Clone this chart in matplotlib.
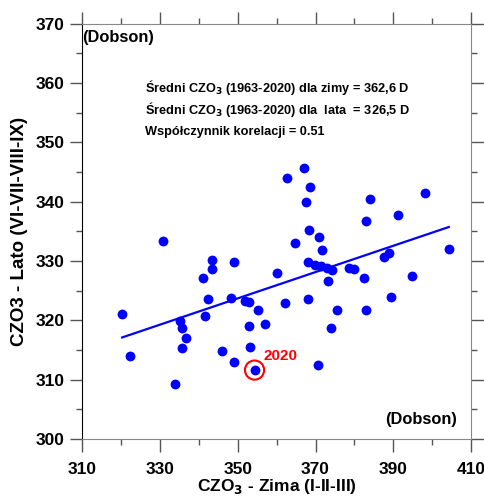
import matplotlib

matplotlib.use("Agg")
import matplotlib.pyplot as plt
import numpy as np
from matplotlib.ticker import FixedLocator, MultipleLocator

plt.rcParams["font.family"] = ["Liberation Sans", "DejaVu Sans"]
plt.rcParams["font.weight"] = "bold"

# winter (x) and summer (y) total ozone, Dobson units
zima = [
    330.7, 343.4, 349.1, 343.4, 341.0, 360.2, 342.2, 348.3, 367.1, 362.7,
    368.6, 367.5, 383.9, 398.3, 391.2, 383.1, 368.3, 370.8, 364.8, 371.7,
    368.1, 369.9, 371.5, 373.0, 374.3, 373.2, 378.7, 380.0, 387.7, 389.0,
    404.3, 382.6, 394.9, 368.0, 389.3, 320.2, 322.3, 333.7, 335.1, 335.7,
    336.7, 335.6, 341.6, 351.8, 353.0, 355.3, 346.0, 349.0, 352.8, 357.1,
    353.1, 354.3, 362.1, 370.6, 374.0, 375.5, 383.1,
]
lato = [
    333.4, 330.1, 329.9, 328.6, 327.2, 327.9, 323.6, 323.7, 345.7, 344.0,
    342.4, 339.9, 340.4, 341.4, 337.8, 336.7, 335.2, 334.1, 333.0, 331.9,
    329.9, 329.4, 329.1, 328.9, 328.4, 326.7, 328.9, 328.7, 330.7, 331.4,
    332.0, 327.1, 327.5, 323.6, 324.0, 321.1, 313.9, 309.2, 319.8, 318.7,
    317.0, 315.4, 320.8, 323.2, 323.0, 321.8, 314.9, 312.9, 319.1, 319.4,
    315.5, 311.6, 322.9, 312.5, 318.7, 321.8, 321.8,
]
point_2020 = (354.3, 311.6)
x_ticks = [310, 330, 350, 370, 390, 410]
y_ticks = [300, 310, 320, 330, 340, 350, 360, 370]

x = np.array(zima)
y = np.array(lato)

fig = plt.figure(figsize=(4.85, 4.97), dpi=100)
ax = fig.add_axes([0.17, 0.117, 0.801, 0.835])

ax.scatter(x, y, s=50, color="#0000ff", zorder=3, linewidths=0)

# linear fit over the data range
a, b = np.polyfit(x, y, 1)
xx = np.array([x.min(), x.max()])
ax.plot(xx, a * xx + b, color="#0000ff", lw=1.6, zorder=2)

# 2020 highlight
ax.scatter([point_2020[0]], [point_2020[1]], s=190, facecolors="none",
           edgecolors="red", linewidths=1.5, zorder=4)
ax.text(point_2020[0] + 2.2, point_2020[1] + 2.3, "2020", color="red",
        fontsize=11, fontweight="bold", ha="left", va="center")

ax.set_xlim(310, 410)
ax.set_ylim(300, 370)
ax.xaxis.set_major_locator(FixedLocator(x_ticks))
ax.xaxis.set_minor_locator(MultipleLocator(10))
ax.yaxis.set_major_locator(FixedLocator(y_ticks))
ax.yaxis.set_minor_locator(MultipleLocator(5))
ax.tick_params(which="both", direction="out", top=True, right=True,
               labelsize=12.5, color="#555555")
ax.tick_params(which="major", length=9, width=1)
ax.tick_params(which="minor", length=4.3, width=1)
ax.tick_params(axis="x", which="major", pad=8)
ax.tick_params(axis="y", which="major", pad=4)
for lab in ax.get_xticklabels() + ax.get_yticklabels():
    lab.set_fontweight("bold")

for side in ["top", "right", "bottom"]:
    ax.spines[side].set_color("#888888")
ax.spines["left"].set_color("black")

ax.set_xlabel("CZO$_\\mathbf{3}$ - Zima (I-II-III)", fontsize=12.5,
              fontweight="bold")
ax.set_ylabel("CZO3 - Lato (VI-VII-VIII-IX)", fontsize=13.5, fontweight="bold")
ax.xaxis.set_label_coords(0.5, -0.093)
ax.yaxis.set_label_coords(-0.14, 0.5)

ax.text(0.0, 0.966, "(Dobson)", transform=ax.transAxes, fontsize=11.8,
        fontweight="bold", ha="left", va="center")
ax.text(0.964, 0.046, "(Dobson)", transform=ax.transAxes, fontsize=11.8,
        fontweight="bold", ha="right", va="center")

ax.text(0.161, 0.846, "Średni CZO$_\\mathbf{3}$ (1963-2020) dla zimy = 362,6 D",
        transform=ax.transAxes, fontsize=9.2, fontweight="bold", va="center")
ax.text(0.161, 0.793, "Średni CZO$_\\mathbf{3}$ (1963-2020) dla  lata  = 326,5 D",
        transform=ax.transAxes, fontsize=9.2, fontweight="bold", va="center")
ax.text(0.161, 0.740, "Współczynnik korelacji = 0.51",
        transform=ax.transAxes, fontsize=9.2, fontweight="bold", va="center")

fig.savefig("out.png", dpi=100)
plt.close(fig)
